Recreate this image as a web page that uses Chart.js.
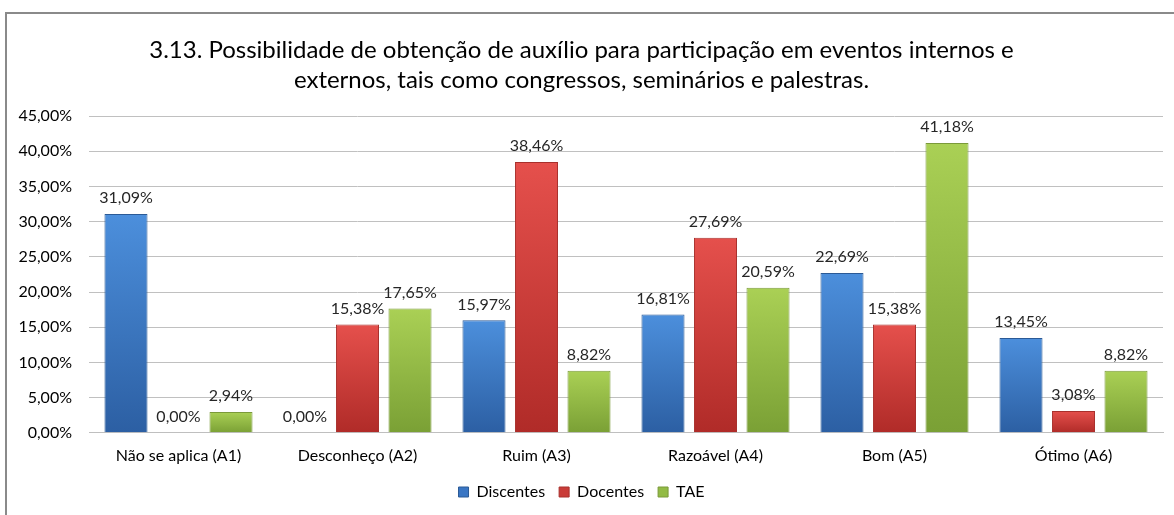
<!DOCTYPE html>
<html>
<head>
<meta charset="utf-8">
<script src="https://cdn.jsdelivr.net/npm/chart.js@4.4.0/dist/chart.umd.min.js"></script>
<style>
  html, body { margin: 0; padding: 0; background: #fff; }
  #wrap { width: 1174px; height: 515px; position: relative; }
</style>
</head>
<body>
<div id="wrap"><canvas id="grafico"></canvas></div>
<script>
const categorias = ['Não se aplica (A1)', 'Desconheço (A2)', 'Ruim (A3)', 'Razoável (A4)', 'Bom (A5)', 'Ótimo (A6)'];
const discentes = [31.09, 0.00, 15.97, 16.81, 22.69, 13.45];
const docentes = [0.00, 15.38, 38.46, 27.69, 15.38, 3.08];
const tae = [2.94, 17.65, 8.82, 20.59, 41.18, 8.82];
const titulo = [
  '3.13. Possibilidade de obtenção de auxílio para participação em eventos internos e',
  'externos, tais como congressos, seminários e palestras.'
];

const fonte = 'Lato, "Open Sans", sans-serif';

function fmt(v) {
  return v.toFixed(2).replace('.', ',') + '%';
}

// gradiente vertical por barra, tipo bisel do Excel
function grad(claro, escuro) {
  return ctx => {
    const chart = ctx.chart;
    const area = chart.chartArea;
    if (!area || ctx.raw === undefined) return escuro;
    const topo = chart.scales.y.getPixelForValue(ctx.raw);
    const base = area.bottom;
    if (base - topo < 1) return escuro;
    const g = chart.ctx.createLinearGradient(0, topo, 0, base);
    g.addColorStop(0, claro);
    g.addColorStop(1, escuro);
    return g;
  };
}

const moldura = {
  id: 'moldura',
  beforeDraw(chart) {
    const c = chart.ctx;
    c.save();
    c.strokeStyle = '#8a8a8a';
    c.lineWidth = 2;
    c.beginPath();
    c.moveTo(6, chart.height);
    c.lineTo(6, 13);
    c.lineTo(chart.width, 13);
    c.stroke();
    c.restore();
  }
};

const rotulos = {
  id: 'rotulos',
  afterDatasetsDraw(chart) {
    const c = chart.ctx;
    c.save();
    c.font = '16px ' + fonte;
    c.fillStyle = '#262626';
    c.textAlign = 'center';
    c.textBaseline = 'bottom';
    chart.data.datasets.forEach((ds, i) => {
      chart.getDatasetMeta(i).data.forEach((bar, j) => {
        c.fillText(fmt(ds.data[j]), bar.x, bar.y - 8);
      });
    });
    c.restore();
  }
};

new Chart(document.getElementById('grafico'), {
  type: 'bar',
  data: {
    labels: categorias,
    datasets: [
      { label: 'Discentes', data: discentes, backgroundColor: grad('#4c8fdc', '#2c5fa3'), borderColor: '#2b5a96', borderWidth: 1 },
      { label: 'Docentes', data: docentes, backgroundColor: grad('#e5504c', '#b02b28'), borderColor: '#a8302c', borderWidth: 1 },
      { label: 'TAE', data: tae, backgroundColor: grad('#aad055', '#7aa035'), borderColor: '#7b9a3a', borderWidth: 1 }
    ]
  },
  options: {
    responsive: true,
    maintainAspectRatio: false,
    animation: false,
    categoryPercentage: 0.88,
    barPercentage: 0.82,
    layout: { padding: { left: 0, right: 11, top: 12, bottom: 5 } },
    plugins: {
      title: {
        display: true,
        text: titulo,
        color: '#000',
        font: { family: fonte, size: 24, weight: 'normal', lineHeight: 1.25 },
        padding: { top: 23, bottom: 21 }
      },
      legend: {
        position: 'bottom',
        labels: {
          boxWidth: 10,
          boxHeight: 10,
          color: '#000',
          padding: 14,
          font: { family: fonte, size: 16 },
          generateLabels(chart) {
            const cores = ['#3a76c4', '#c93c38', '#92bb45'];
            return chart.data.datasets.map((ds, i) => ({
              text: ds.label,
              fillStyle: cores[i],
              strokeStyle: ds.borderColor,
              lineWidth: 1,
              datasetIndex: i
            }));
          }
        }
      },
      tooltip: { enabled: false }
    },
    scales: {
      x: {
        grid: { display: false },
        border: { color: '#bfbfbf' },
        ticks: { color: '#000', font: { family: fonte, size: 16 }, padding: 5 }
      },
      y: {
        min: 0,
        max: 45,
        afterFit(s) { s.width = 89; },
        grid: { color: '#c0c0c0', drawTicks: false },
        border: { display: false },
        ticks: {
          stepSize: 5,
          color: '#000',
          font: { family: fonte, size: 16 },
          padding: 17,
          callback: v => fmt(v)
        }
      }
    }
  },
  plugins: [moldura, rotulos]
});
</script>
</body>
</html>
